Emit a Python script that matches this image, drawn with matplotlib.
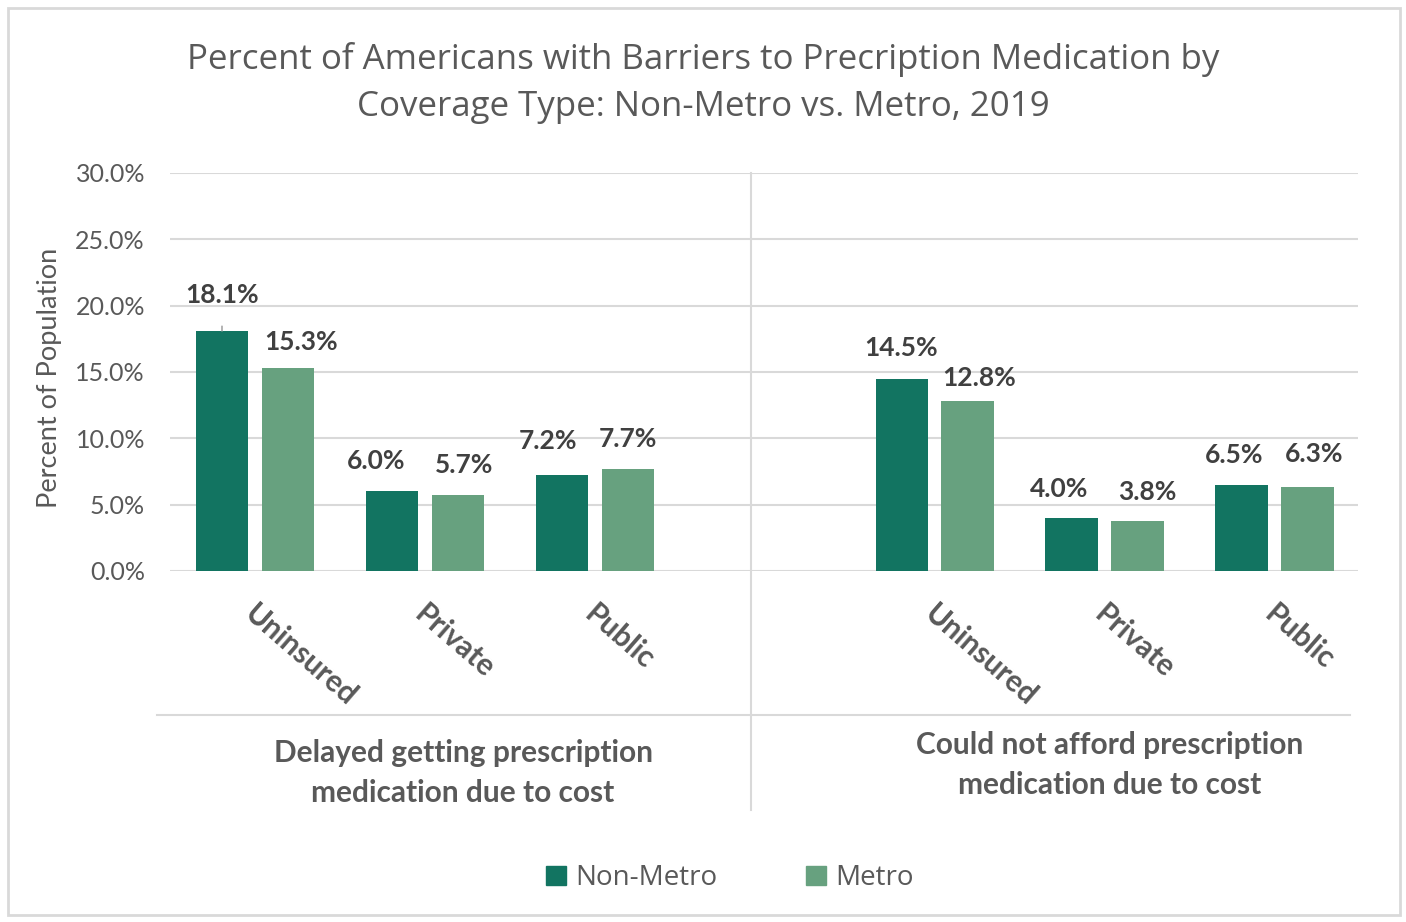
import matplotlib
matplotlib.use("Agg")
import matplotlib.pyplot as plt
from matplotlib.patches import Rectangle, Patch
from matplotlib.lines import Line2D
import numpy as np

plt.rcParams['font.family'] = ['Lato', 'DejaVu Sans']

# ── data ──
groups = ["Delayed getting prescription\nmedication due to cost",
          "Could not afford prescription\nmedication due to cost"]
coverage = ["Uninsured", "Private", "Public"]
non_metro = [18.1, 6.0, 7.2, 14.5, 4.0, 6.5]
metro = [15.3, 5.7, 7.7, 12.8, 3.8, 6.3]
yticks = [0, 5, 10, 15, 20, 25, 30]

# label offsets (pixels) the way Excel placed them
nm_offsets = [(0, 36), (-16, 30), (-14, 34), (-1, 31), (-13, 29), (-8, 30)]
m_offsets = [(13, 26), (6, 30), (0, 30), (11, 23), (10, 29), (6, 33)]

C_NM = "#127461"
C_M = "#67A17F"
TXT = "#595959"
GRID = "#D9D9D9"

fig = plt.figure(figsize=(14.06, 9.22), dpi=100)
ax = fig.add_axes([0.1209, 0.3807, 0.845, 0.4317])

x = np.array([0, 1, 2, 4, 5, 6], dtype=float)
w = 0.31
off = 0.194
b1 = ax.bar(x - off, non_metro, w, color=C_NM, label="Non-Metro", zorder=3)
b2 = ax.bar(x + off, metro, w, color=C_M, label="Metro", zorder=3)

for bars, vals, offs in [(b1, non_metro, nm_offsets), (b2, metro, m_offsets)]:
    for i, (bar, v) in enumerate(zip(bars, vals)):
        cx = bar.get_x() + bar.get_width() / 2
        kw = {}
        if bars is b1 and i == 0:
            kw["arrowprops"] = dict(arrowstyle="-", color="#A6A6A6", lw=1.2,
                                    shrinkA=12, shrinkB=0)
        ax.annotate(f"{v:.1f}%", xy=(cx, v), xytext=offs[i],
                    textcoords="offset pixels", ha="center", va="center",
                    fontsize=19, fontweight="bold", color="#404040", **kw)

ax.set_xlim(-0.5, 6.49)
ax.set_ylim(0, 30)
ax.set_yticks(yticks)
ax.set_yticklabels([f"{t:.1f}%" for t in yticks], fontsize=18, color=TXT)
ax.tick_params(axis="y", length=0, pad=18)
ax.tick_params(axis="x", length=0)
ax.set_xticks([])
ax.grid(axis="y", color=GRID, lw=1.5, zorder=0)
for s in ax.spines.values():
    s.set_visible(False)
ax.set_ylabel("Percent of Population", fontsize=19.5, color=TXT)
ax.yaxis.set_label_coords(-0.091, 0.485)

# rotated category labels
for xi, name in zip(x, coverage * 2):
    ax.annotate(name, xy=(xi, 0), xytext=(3, -29), textcoords="offset pixels",
                rotation=-41, rotation_mode="anchor", ha="left", va="top",
                fontsize=21.5, fontweight="bold", color=TXT, annotation_clip=False)

# group separators and labels
fig.add_artist(Line2D([0.5341, 0.5341], [0.8124, 0.1215], color=GRID, lw=1.5))
fig.add_artist(Line2D([0.1117, 0.9602], [0.2245, 0.2245], color=GRID, lw=1.5))
fig.text(463 / 1406, 1 - 773 / 922, groups[0], ha="center", va="center",
         fontsize=21.5, fontweight="bold", color=TXT, linespacing=1.5)
fig.text(1110 / 1406, 1 - 765 / 922, groups[1], ha="center", va="center",
         fontsize=21.5, fontweight="bold", color=TXT, linespacing=1.5)

# title
fig.text(0.5, 1 - 83 / 922,
         "Percent of Americans with Barriers to Precription Medication by\n"
         "Coverage Type: Non-Metro vs. Metro, 2019",
         ha="center", va="center", fontsize=25.1, color=TXT, linespacing=1.52,
         family=["Open Sans", "DejaVu Sans"])

# legend
handles = [Patch(color=C_NM), Patch(color=C_M)]
fig.legend(handles, ["Non-Metro", "Metro"], loc="center",
           bbox_to_anchor=(730 / 1406, 1 - 878 / 922), ncol=2, frameon=False,
           handlelength=0.7, handleheight=0.7,
           handletextpad=0.35, columnspacing=3.2, labelcolor=TXT,
           prop={"family": ["Open Sans", "DejaVu Sans"], "size": 20})

# outer border
fig.add_artist(Rectangle((8 / 1406, 1 - 915 / 922), 1392 / 1406, 907 / 922,
                         transform=fig.transFigure, fill=False,
                         edgecolor=GRID, lw=2))

fig.savefig("out.png", dpi=100, facecolor="white")
